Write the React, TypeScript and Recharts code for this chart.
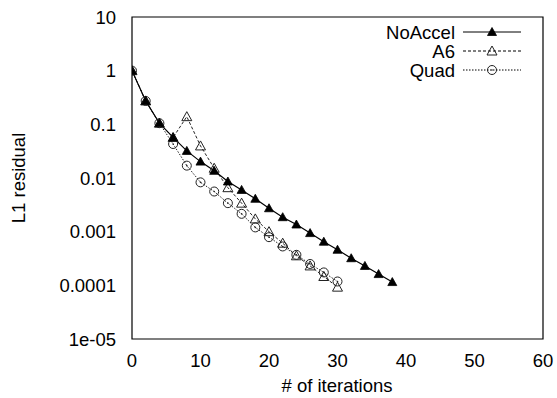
import React from "react"
import { LineChart, Line, XAxis, YAxis, Label, ReferenceArea } from "recharts"

// iterations and L1 residual
const iterations = [0, 2, 4, 6, 8, 10, 12, 14, 16, 18, 20, 22, 24, 26, 28, 30, 32, 34, 36, 38]
const noAccel = [
  1, 0.273, 0.105, 0.057, 0.032, 0.0202, 0.0136, 0.0086, 0.006, 0.0041, 0.00273, 0.00186, 0.00136,
  0.00094, 0.00065, 0.00046, 0.00032, 0.00023, 0.000162, 0.000115,
]
const a6 = [
  1, 0.273, 0.105, 0.057, 0.139, 0.0396, 0.0152, 0.0066, 0.0034, 0.00173, 0.001, 0.00061, 0.000355,
  0.00023, 0.000146, 0.0000925,
]
const quad = [
  1, 0.273, 0.105, 0.043, 0.017, 0.0083, 0.0056, 0.0034, 0.00215, 0.0012, 0.00079, 0.00053, 0.00037,
  0.00025, 0.000174, 0.000118,
]

const xTicks = [0, 10, 20, 30, 40, 50, 60]
const yTicks = [1e-5, 1e-4, 1e-3, 1e-2, 1e-1, 1, 10]
const yTickLabels = ["1e-05", "0.0001", "0.001", "0.01", "0.1", "1", "10"]
const minorSteps = [2, 5, 8]
const yMinorTicks = yTicks.slice(0, -1).flatMap((d) => minorSteps.map((m) => m * d))

const data = iterations.map((it, i) => ({
  it,
  noAccel: noAccel[i],
  a6: a6[i],
  quad: quad[i],
}))

const FONT = "'Liberation Sans', Arial, Helvetica, sans-serif"
const tickStyle = { fontFamily: FONT, fontSize: 18.5, fill: "#000" }

function fmtY(v: number) {
  const i = yTicks.findIndex((t) => Math.abs(t - v) / t < 1e-6)
  return i >= 0 ? yTickLabels[i] : String(v)
}

const FilledTri = (p: any) => {
  const { cx, cy, value } = p
  if (value == null || cx == null || cy == null) return null
  return <path key={p.index} d={`M${cx},${cy - 4.5} L${cx + 4.5},${cy + 3.5} L${cx - 4.5},${cy + 3.5} Z`} fill="#000" stroke="#000" strokeWidth={0.8} />
}
const OpenTri = (p: any) => {
  const { cx, cy, value } = p
  if (value == null || cx == null || cy == null) return null
  return <path key={p.index} d={`M${cx},${cy - 5} L${cx + 5},${cy + 4} L${cx - 5},${cy + 4} Z`} fill="none" stroke="#222" strokeWidth={1} />
}
const OpenCircle = (p: any) => {
  const { cx, cy, value } = p
  if (value == null || cx == null || cy == null) return null
  return (
    <g key={p.index}>
      <circle cx={cx} cy={cy} r={4.5} fill="none" stroke="#222" strokeWidth={1} />
      <circle cx={cx} cy={cy} r={0.8} fill="#222" />
    </g>
  )
}

function LegendBox() {
  const rows = [
    { name: "NoAccel", dash: undefined, Mark: FilledTri },
    { name: "A6", dash: "3 2", Mark: OpenTri },
    { name: "Quad", dash: "1.5 1.5", Mark: OpenCircle },
  ]
  return (
    <svg width={557} height={398} style={{ position: "absolute", left: 0, top: 0, pointerEvents: "none" }}>
      {rows.map((r, i) => {
        const y = 32 + i * 19
        return (
          <g key={r.name}>
            <text x={455} y={y} textAnchor="end" dominantBaseline="central" style={tickStyle}>
              {r.name}
            </text>
            <line x1={463} x2={521} y1={y} y2={y} stroke="#000" strokeWidth={1} strokeDasharray={r.dash} />
            <r.Mark cx={492} cy={y} value={1} index={i} />
          </g>
        )
      })}
    </svg>
  )
}

export default function App() {
  return (
    <div style={{ position: "absolute", left: 0, top: 0, width: 557, height: 398, background: "#fff" }}>
      <LineChart width={557} height={398} data={data} margin={{ top: 17, right: 14, bottom: 0, left: 0 }}>
        {/* label axes */}
        <XAxis
          xAxisId="x"
          dataKey="it"
          type="number"
          domain={[0, 60]}
          ticks={xTicks}
          allowDataOverflow
          height={59}
          tickLine={false}
          axisLine={false}
          tickMargin={9}
          tick={tickStyle}
        >
          <Label
            content={() => (
              <text x={337} y={385} textAnchor="middle" dominantBaseline="central" style={tickStyle}>
                # of iterations
              </text>
            )}
          />
        </XAxis>
        <YAxis
          yAxisId="y"
          type="number"
          scale="log"
          domain={[1e-5, 10]}
          ticks={yTicks}
          allowDataOverflow
          width={132}
          tickLine={false}
          axisLine={false}
          tickMargin={10}
          tickFormatter={fmtY}
          tick={tickStyle}
          interval={0}
        >
          <Label
            content={() => (
              <text x={18} y={178} transform="rotate(-90 18 178)" textAnchor="middle" dominantBaseline="central" style={tickStyle}>
                L1 residual
              </text>
            )}
          />
        </YAxis>

        {/* inward tick marks on all four sides */}
        <XAxis xAxisId="xb" type="number" domain={[0, 60]} ticks={xTicks} orientation="bottom" mirror height={0} tick={false} axisLine={false} tickLine={{ stroke: "#000" }} tickSize={6} />
        <XAxis xAxisId="xt" type="number" domain={[0, 60]} ticks={xTicks} orientation="top" mirror height={0} tick={false} axisLine={false} tickLine={{ stroke: "#000" }} tickSize={6} />
        <YAxis yAxisId="yl" type="number" scale="log" domain={[1e-5, 10]} ticks={yTicks} interval={0} orientation="left" mirror width={0} tick={false} axisLine={false} tickLine={{ stroke: "#000" }} tickSize={6} />
        <YAxis yAxisId="ylm" type="number" scale="log" domain={[1e-5, 10]} ticks={yMinorTicks} interval={0} orientation="left" mirror width={0} tick={false} axisLine={false} tickLine={{ stroke: "#000" }} tickSize={3} />
        <YAxis yAxisId="yr" type="number" scale="log" domain={[1e-5, 10]} ticks={yTicks} interval={0} orientation="right" mirror width={0} tick={false} axisLine={false} tickLine={{ stroke: "#000" }} tickSize={6} />
        <YAxis yAxisId="yrm" type="number" scale="log" domain={[1e-5, 10]} ticks={yMinorTicks} interval={0} orientation="right" mirror width={0} tick={false} axisLine={false} tickLine={{ stroke: "#000" }} tickSize={3} />

        {/* plot frame */}
        <ReferenceArea xAxisId="x" yAxisId="y" x1={0} x2={60} y1={1e-5} y2={10} fill="none" stroke="#000" strokeWidth={1.2} ifOverflow="visible" />

        <Line xAxisId="x" yAxisId="y" dataKey="quad" stroke="#222" strokeWidth={1} strokeDasharray="1.5 1.5" dot={OpenCircle} isAnimationActive={false} />
        <Line xAxisId="x" yAxisId="y" dataKey="a6" stroke="#222" strokeWidth={1} strokeDasharray="3 2" dot={OpenTri} isAnimationActive={false} />
        <Line xAxisId="x" yAxisId="y" dataKey="noAccel" stroke="#000" strokeWidth={1.2} dot={FilledTri} isAnimationActive={false} />
      </LineChart>
      <LegendBox />
    </div>
  )
}
